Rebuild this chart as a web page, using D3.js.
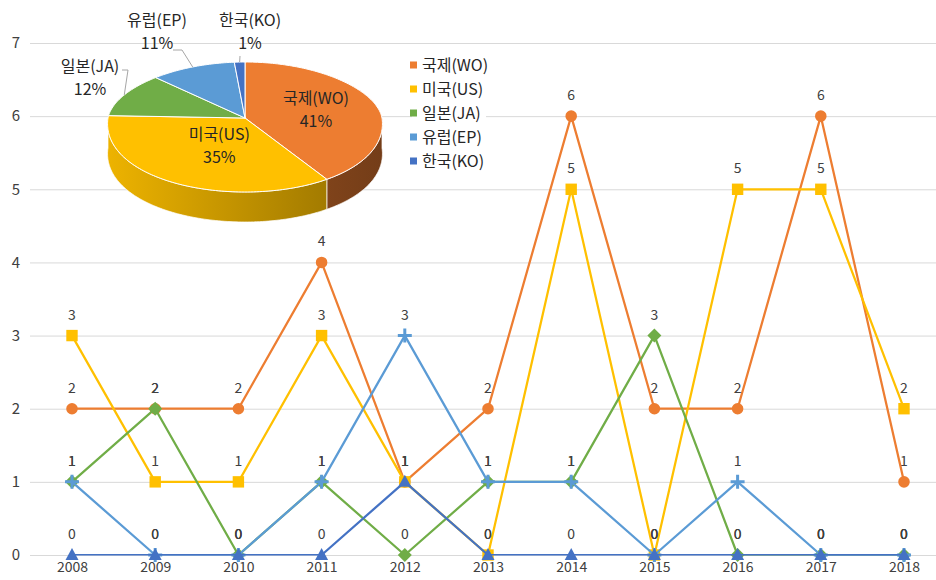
<!DOCTYPE html>
<html>
<head>
<meta charset="utf-8">
<script src="https://cdn.jsdelivr.net/npm/d3@7"></script>
<style>
  body { margin: 0; background: #fff; }
  svg { display: block; font-family: "Noto Sans CJK KR", "Malgun Gothic", sans-serif; }
</style>
</head>
<body>
<div id="chart"></div>
<script>
// years on the x axis
var years = ['2008', '2009', '2010', '2011', '2012', '2013', '2014', '2015', '2016', '2017', '2018'];
// series names (legend + pie labels)
var seriesNames = ['국제(WO)', '미국(US)', '일본(JA)', '유럽(EP)', '한국(KO)'];
var seriesCodes = ['WO', 'US', 'JA', 'EP', 'KO'];
var seriesColors = ['#ED7D31', '#FFC000', '#70AD47', '#5B9BD5', '#4472C4'];
var seriesMarkers = ['circle', 'square', 'diamond', 'plus', 'triangle'];
// yearly counts per office
var woValues = [2, 2, 2, 4, 1, 2, 6, 2, 2, 6, 1];
var usValues = [3, 1, 1, 3, 1, 0, 5, 0, 5, 5, 2];
var jaValues = [1, 2, 0, 1, 0, 1, 1, 3, 0, 0, 0];
var epValues = [1, 0, 0, 1, 3, 1, 1, 0, 1, 0, 0];
var koValues = [0, 0, 0, 0, 1, 0, 0, 0, 0, 0, 0];
var yTicks = [0, 1, 2, 3, 4, 5, 6, 7];

var allValues = [woValues, usValues, jaValues, epValues, koValues];

var width = 936, height = 580;
var svg = d3.select('#chart').append('svg')
    .attr('width', width).attr('height', height);

var x = d3.scalePoint().domain(years).range([72, 904]),
    y = d3.scaleLinear().domain([0, 7]).range([555, 43]);

// gridlines + y labels
var yAxis = svg.append('g')
    .attr('transform', 'translate(30,0)')
    .call(d3.axisLeft(y).tickValues(yTicks).tickFormat(d3.format('d')).tickSize(-906).tickPadding(10));
yAxis.select('.domain').remove();
yAxis.selectAll('.tick line').attr('stroke', '#d9d9d9').attr('stroke-width', 1);
yAxis.selectAll('.tick text').attr('fill', '#404040').style('font-size', '15px')
    .style('font-family', '"Noto Sans CJK KR", sans-serif');

// x labels
var xAxis = svg.append('g')
    .attr('transform', 'translate(0,555)')
    .call(d3.axisBottom(x).tickSize(0).tickPadding(7));
xAxis.select('.domain').remove();
xAxis.selectAll('.tick text').attr('fill', '#404040').style('font-size', '14px')
    .style('font-family', '"Noto Sans CJK KR", sans-serif');

// clip lines at plot bottom (like the original)
svg.append('defs').append('clipPath').attr('id', 'plotclip')
    .append('rect').attr('x', 0).attr('y', 0).attr('width', width).attr('height', 555.5);

function markerPath(type) {
    if (type === 'circle') return d3.symbol(d3.symbolCircle, 105)();
    if (type === 'square') return d3.symbol(d3.symbolSquare, 130)();
    if (type === 'diamond') return 'M0,-7L7,0L0,7L-7,0Z';
    if (type === 'plus') return 'M-7,0H7M0,-7V7';
    return 'M0,-7L6.5,5L-6.5,5Z';
}

var line = d3.line()
    .x(function (d, i) { return x(years[i]); })
    .y(function (d) { return y(d); });

allValues.forEach(function (vals, s) {
    var g = svg.append('g').attr('class', 'series-' + seriesCodes[s]);
    g.append('path')
        .attr('d', line(vals))
        .attr('clip-path', 'url(#plotclip)')
        .attr('fill', 'none')
        .attr('stroke', seriesColors[s])
        .attr('stroke-width', 2.25)
        .attr('stroke-linejoin', 'round');
    var isPlus = seriesMarkers[s] === 'plus';
    g.selectAll('path.mk')
        .data(vals)
        .enter().append('path')
        .attr('class', 'mk')
        .attr('transform', function (d, i) { return 'translate(' + x(years[i]) + ',' + y(d) + ')'; })
        .attr('d', markerPath(seriesMarkers[s]))
        .attr('fill', isPlus ? 'none' : seriesColors[s])
        .attr('stroke', seriesColors[s])
        .attr('stroke-width', isPlus ? 3 : 0);
});

// data labels
allValues.forEach(function (vals, s) {
    svg.append('g').selectAll('text')
        .data(vals)
        .enter().append('text')
        .attr('x', function (d, i) { return x(years[i]); })
        .attr('y', function (d) { return y(d) - 16; })
        .attr('text-anchor', 'middle')
        .attr('fill', '#404040')
        .style('font-size', '14px')
        .text(function (d) { return d; });
});

// ---------------- 3D pie ----------------
var totals = allValues.map(function (v) { return d3.sum(v); });
var grand = d3.sum(totals);
var pieData = d3.pie().sort(null).value(function (d) { return d; })(totals);

var cx = 245, cy = 118, rx = 137, ryBack = 56, ryFront = 74, depth = 30, persp = 0.08;

function proj(a, f, dz) {
    f = f === undefined ? 1 : f;
    var s = Math.sin(a), c = Math.cos(a);
    var ry = c > 0 ? ryBack : ryFront;
    return [cx + rx * f * s * (1 - persp * c), cy - ry * f * c + (dz || 0)];
}

function arcPoints(a0, a1, f, dz) {
    var n = Math.max(2, Math.ceil((a1 - a0) / 0.02)), pts = [];
    for (var i = 0; i <= n; i++) pts.push(proj(a0 + (a1 - a0) * i / n, f, dz));
    return pts;
}

var defs = svg.select('defs');
var pie = svg.append('g').attr('class', 'pie');

// side walls (front half only)
var sideShade = [[0.9, 2.0], [0.2, 1.6], [0.4, 1.6], [0.4, 1.6], [0.4, 1.6]];
pieData.forEach(function (d, i) {
    var a0 = Math.max(d.startAngle, Math.PI / 2), a1 = Math.min(d.endAngle, 3 * Math.PI / 2);
    if (a1 <= a0) return;
    var gid = 'side' + i;
    var grad = defs.append('linearGradient').attr('id', gid)
        .attr('gradientUnits', 'userSpaceOnUse')
        .attr('x1', cx - rx).attr('x2', cx + rx).attr('y1', 0).attr('y2', 0);
    grad.append('stop').attr('offset', '0%').attr('stop-color', d3.color(seriesColors[i]).darker(sideShade[i][0]));
    grad.append('stop').attr('offset', '100%').attr('stop-color', d3.color(seriesColors[i]).darker(sideShade[i][1]));
    var top = arcPoints(a0, a1, 1, 0), bot = arcPoints(a0, a1, 1, depth).reverse();
    pie.append('path')
        .attr('d', 'M' + top.concat(bot).join('L') + 'Z')
        .attr('fill', 'url(#' + gid + ')')
        .attr('stroke', '#fff').attr('stroke-width', 1).attr('stroke-opacity', 0.7);
});

// top faces
pieData.forEach(function (d, i) {
    var pts = arcPoints(d.startAngle, d.endAngle, 1, 0);
    pie.append('path')
        .attr('d', 'M' + cx + ',' + cy + 'L' + pts.join('L') + 'Z')
        .attr('fill', seriesColors[i])
        .attr('stroke', '#fff').attr('stroke-width', 1);
});

function pct(i) { return Math.round(totals[i] / grand * 100) + '%'; }

// inside labels (two largest slices)
var insideNudge = [[7, 0], [10, -4]];
[0, 1].forEach(function (i) {
    var d = pieData[i], p = proj((d.startAngle + d.endAngle) / 2, 0.5, 0);
    var px = p[0] + insideNudge[i][0], py = p[1] + insideNudge[i][1];
    var t = pie.append('text').attr('text-anchor', 'middle').attr('fill', '#262626')
        .style('font-size', '16px');
    t.append('tspan').attr('x', px).attr('y', py - 6).text(seriesNames[i]);
    t.append('tspan').attr('x', px).attr('y', py + 17).text(pct(i));
});

// outside labels with leader lines (layout positions for label boxes)
var outerLabelAt = { JA: [90, 66], EP: [157, 20], KO: [250, 20] };
var leaderFrom = { JA: [[122, 70], [128, 70]], EP: [[173, 50], [182, 50]], KO: [[240, 56]] };
[2, 3, 4].forEach(function (i) {
    var code = seriesCodes[i], d = pieData[i];
    var edge = proj((d.startAngle + d.endAngle) / 2, 1, 0);
    var pts = leaderFrom[code].concat([edge]);
    pie.append('path').attr('d', 'M' + pts.join('L'))
        .attr('fill', 'none').attr('stroke', '#a6a6a6').attr('stroke-width', 1);
    var lp = outerLabelAt[code];
    pie.append('rect').attr('x', lp[0] - 25).attr('y', lp[1] - 12).attr('width', 50).attr('height', 34)
        .attr('fill', '#fff');
    var t = pie.append('text').attr('text-anchor', 'middle').attr('fill', '#262626')
        .style('font-size', '16px');
    t.append('tspan').attr('x', lp[0]).attr('y', lp[1] + 6).text(seriesNames[i]);
    t.append('tspan').attr('x', lp[0]).attr('y', lp[1] + 29).text(pct(i));
});

// legend
var legend = svg.append('g').attr('transform', 'translate(410,65)');
legend.append('rect').attr('x', 2).attr('y', -14).attr('width', 74).attr('height', 110).attr('fill', '#fff');
var items = legend.selectAll('g').data(seriesNames).enter().append('g')
    .attr('transform', function (d, i) { return 'translate(0,' + (i * 24) + ')'; });
items.append('rect').attr('x', 0).attr('y', -3.5).attr('width', 7).attr('height', 7)
    .attr('fill', function (d, i) { return seriesColors[i]; });
items.append('text').attr('x', 12).attr('y', 6).attr('fill', '#262626')
    .style('font-size', '16px').text(function (d) { return d; });
</script>
</body>
</html>
